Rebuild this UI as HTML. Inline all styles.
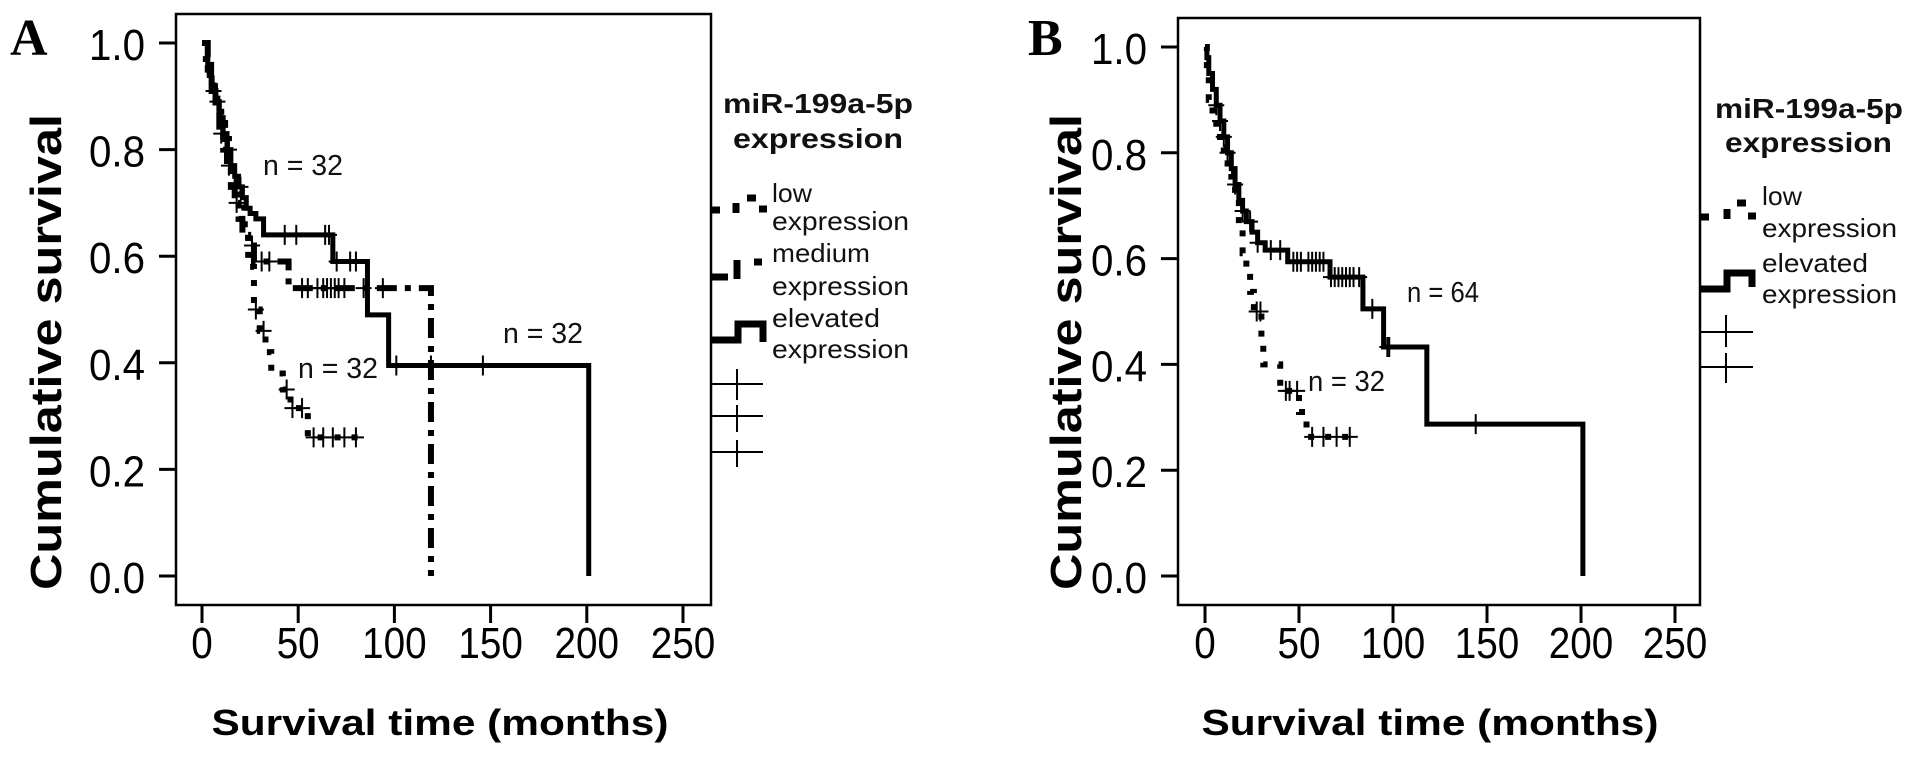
<!DOCTYPE html>
<html><head><meta charset="utf-8"><style>
html,body{margin:0;padding:0;background:#fff;}
svg{display:block;font-family:"Liberation Sans",Arial,sans-serif;}
</style></head><body>
<svg id="fig" width="1911" height="757" viewBox="0 0 1911 757" xmlns="http://www.w3.org/2000/svg">
<rect width="1911" height="757" fill="#fff"/>
<g id="panelA"></g>
<g id="panelB"></g>
</svg>
<script>
// Panel A data
const xTicks = [0, 50, 100, 150, 200, 250];
const yTicks = [0.0, 0.2, 0.4, 0.6, 0.8, 1.0];
const yTickLabels = ["0.0", "0.2", "0.4", "0.6", "0.8", "1.0"];
const aElevT = [0,3,5,7,9,11,13,15,17,19,21,23,25,28,32,68,86,97,201];
const aElevS = [1,0.96,0.92,0.89,0.86,0.83,0.80,0.77,0.75,0.73,0.71,0.69,0.68,0.67,0.64,0.59,0.49,0.395,0];
const aElevEnd = 201;
const aElevC = [8,14,20,43,49,64,66,70,77,80,101,119,146];
const aLowT = [0,2,4,6,8,10,12,14,16,18,20,22,24,27,30,33,36,42,46,55];
const aLowS = [1,0.97,0.94,0.91,0.88,0.85,0.82,0.79,0.76,0.73,0.70,0.66,0.58,0.50,0.46,0.42,0.38,0.35,0.315,0.26];
const aLowEnd = 86;
const aLowC = [28,32,44,47,52,58,63,68,74,80];
const aMedT = [0,3,5,7,9,11,13,15,17,19,21,24,27,45,119];
const aMedS = [1,0.95,0.91,0.87,0.83,0.80,0.77,0.73,0.70,0.67,0.64,0.62,0.59,0.54,0];
const aMedEnd = 119;
const aMedC = [6,10,14,18,26,31,35,52,55,60,63,65,67,69,71,74,84,94];
// Panel B data
const bElevT = [0,1,2,4,6,8,10,12,14,16,18,20,22,25,28,32,44,66.5,84,95,118,201];
const bElevS = [1,0.98,0.95,0.92,0.89,0.86,0.83,0.80,0.77,0.74,0.71,0.69,0.67,0.65,0.63,0.616,0.594,0.565,0.505,0.433,0.287,0];
const bElevEnd = 201;
const bElevC = [6,8,10,12,16,20,24,28,35,40,47,49,51,55,57,59,61,63,67,69,71,73,75,77,79,82,89,97,98,144];
const bLowT = [0,1,2,4,6,8,10,12,14,16,18,20,22,24,26,30,31,40,50,54];
const bLowS = [1,0.95,0.90,0.87,0.84,0.81,0.78,0.76,0.74,0.72,0.66,0.61,0.573,0.537,0.50,0.45,0.40,0.35,0.31,0.263];
const bLowEnd = 80;
const bLowC = [27.5,29.5,43,45,49,57,63,70,77];

const NS = "http://www.w3.org/2000/svg";
function el(parent, tag, attrs, text){
  const e = document.createElementNS(NS, tag);
  for (const k in attrs) e.setAttribute(k, attrs[k]);
  if (text !== undefined) e.textContent = text;
  parent.appendChild(e);
  return e;
}
function survAt(T, S, t){
  let s = S[0];
  for (let i = 0; i < T.length; i++) if (T[i] <= t) s = S[i];
  return s;
}
function drawKM(g, X, Y, T, S, end, style, name, cens){
  let d = "M" + X(T[0]) + "," + Y(S[0]);
  for (let i = 1; i < T.length; i++) d += " H" + X(T[i]) + " V" + Y(S[i]);
  if (end > T[T.length-1]) d += " H" + X(end);
  const p = el(g, "path", Object.assign({d: d, fill: "none", stroke: "#000"}, style));
  
  
  cens.forEach(function(t){
    const cx = X(t), cy = Y(survAt(T, S, t));
    const c = el(g, "path", {d: "M" + (cx-8) + "," + cy + " H" + (cx+8) + " M" + cx + "," + (cy-10) + " V" + (cy+10), stroke: "#000", "stroke-width": 2, fill: "none"});
    
    
  });
}
function drawAxes(g, cfg){
  const X = t => cfg.x0 + t * cfg.xk;
  const Y = s => cfg.y0 - s * cfg.yk;
  const frame = el(g, "rect", {x: cfg.left, y: cfg.top, width: cfg.right - cfg.left, height: cfg.bottom - cfg.top, fill: "none", stroke: "#000", "stroke-width": 2.5});
  
  
  yTicks.forEach(function(v, i){
    const yy = Y(v);
    const tk = el(g, "line", {x1: cfg.left - 17, x2: cfg.left, y1: yy, y2: yy, stroke: "#000", "stroke-width": 3});
    
    
    const lb = el(g, "text", {x: cfg.left - 31, y: yy + 17, "text-anchor": "end", "font-size": 44, textLength: 56, lengthAdjust: "spacingAndGlyphs"}, yTickLabels[i]);
    
    
  });
  xTicks.forEach(function(v){
    const xx = X(v);
    const tk = el(g, "line", {x1: xx, x2: xx, y1: cfg.bottom, y2: cfg.bottom + 18, stroke: "#000", "stroke-width": 3});
    
    
    const s = String(v);
    const lb = el(g, "text", {x: xx, y: 658, "text-anchor": "middle", "font-size": 44, textLength: s.length * 21.5, lengthAdjust: "spacingAndGlyphs"}, s);
    
    
  });
  const xt = el(g, "text", {x: cfg.xTitleX, y: 735, "text-anchor": "middle", "font-size": 36, "font-weight": "bold", textLength: 457, lengthAdjust: "spacingAndGlyphs"}, "Survival time (months)");
  
  
  const yt = el(g, "text", {x: 0, y: 0, transform: "translate(" + cfg.yTitleX + ",352) rotate(-90)", "text-anchor": "middle", "font-size": 44, "font-weight": "bold", textLength: 476, lengthAdjust: "spacingAndGlyphs"}, "Cumulative survival");
  
  
  const pl = el(g, "text", {x: cfg.letterX, y: 55, "font-size": 52, "font-weight": "bold", "font-family": "Liberation Serif, serif"}, cfg.letter);
  
  
  return {X: X, Y: Y};
}
function label(g, x, y, txt, size, bold, w, name){
  const t = el(g, "text", {x: x, y: y, "font-size": size, "font-weight": bold ? "bold" : "normal", textLength: w, lengthAdjust: "spacingAndGlyphs", fill: "#111"}, txt);
  
  
}
const lowStyle = {"stroke-width": 6, "stroke-dasharray": "6 11"};
const medStyle = {"stroke-width": 6, "stroke-dasharray": "20 8 6 8"};
const elevStyle = {"stroke-width": 5};

// ---- Panel A ----
const gA = document.getElementById("panelA");
const A = drawAxes(gA, {left: 176, right: 711, top: 14, bottom: 605, x0: 202, xk: 1.924, y0: 576, yk: 533, xTitleX: 440, yTitleX: 61, letterX: 10, letter: "A"});
drawKM(gA, A.X, A.Y, aLowT, aLowS, aLowEnd, lowStyle, "low-expression", aLowC);
drawKM(gA, A.X, A.Y, aMedT, aMedS, aMedEnd, medStyle, "medium-expression", aMedC);
drawKM(gA, A.X, A.Y, aElevT, aElevS, aElevEnd, elevStyle, "elevated-expression", aElevC);
label(gA, 263, 175, "n = 32", 29, false, 80, "n-label-elevated");
label(gA, 503, 343, "n = 32", 29, false, 80, "n-label-medium");
label(gA, 298, 378, "n = 32", 29, false, 80, "n-label-low");
// legend A
const lgA = el(gA, "g", {});


label(lgA, 723, 113, "miR-199a-5p", 28, true, 190, "legend-title");
label(lgA, 733, 148, "expression", 28, true, 170, "legend-title-line2");
label(lgA, 772, 202, "low", 26, false, 40, "legend-low-label");
label(lgA, 772, 230, "expression", 26, false, 137, "legend-low-label-2");
label(lgA, 772, 262, "medium", 26, false, 98, "legend-medium-label");
label(lgA, 772, 295, "expression", 26, false, 137, "legend-medium-label-2");
label(lgA, 772, 327, "elevated", 26, false, 108, "legend-elevated-label");
label(lgA, 772, 358, "expression", 26, false, 137, "legend-elevated-label-2");
el(lgA, "path", {d: "M711,210 H720 M736,203 V213 M747,198 H756 M759,209 H767", stroke: "#000", "stroke-width": 7, fill: "none"});
el(lgA, "path", {d: "M711,277 H728 M737,260 V279 M754,262 H762", stroke: "#000", "stroke-width": 7, fill: "none"});
el(lgA, "path", {d: "M711,340 H738 V324 H763 V342", stroke: "#000", "stroke-width": 7, fill: "none"});
el(lgA, "path", {d: "M711,384 H763 M737,369 V400 M711,416 H763 M737,405 V432 M711,452 H763 M737,440 V467", stroke: "#000", "stroke-width": 2, fill: "none"});

// ---- Panel B ----
const gB = document.getElementById("panelB");
const B = drawAxes(gB, {left: 1178, right: 1700, top: 18, bottom: 605, x0: 1205, xk: 1.88, y0: 576, yk: 529, xTitleX: 1430, yTitleX: 1081, letterX: 1028, letter: "B"});
drawKM(gB, B.X, B.Y, bLowT, bLowS, bLowEnd, lowStyle, "low-expression", bLowC);
drawKM(gB, B.X, B.Y, bElevT, bElevS, bElevEnd, elevStyle, "elevated-expression", bElevC);
label(gB, 1407, 302, "n = 64", 29, false, 72, "n-label-elevated");
label(gB, 1308, 391, "n = 32", 29, false, 77, "n-label-low");
const lgB = el(gB, "g", {});


label(lgB, 1715, 118, "miR-199a-5p", 28, true, 188, "legend-title");
label(lgB, 1725, 152, "expression", 28, true, 167, "legend-title-line2");
label(lgB, 1762, 205, "low", 26, false, 40, "legend-low-label");
label(lgB, 1762, 237, "expression", 26, false, 135, "legend-low-label-2");
label(lgB, 1762, 272, "elevated", 26, false, 106, "legend-elevated-label");
label(lgB, 1762, 303, "expression", 26, false, 135, "legend-elevated-label-2");
el(lgB, "path", {d: "M1701,217 H1709 M1727,209 V219 M1737,203 H1746 M1748,216 H1756", stroke: "#000", "stroke-width": 7, fill: "none"});
el(lgB, "path", {d: "M1700,289 H1727 V273 H1752 V287", stroke: "#000", "stroke-width": 7, fill: "none"});
el(lgB, "path", {d: "M1700,332 H1753 M1726,315 V347 M1700,367 H1753 M1726,353 V383", stroke: "#000", "stroke-width": 2, fill: "none"});
</script>
</body></html>
